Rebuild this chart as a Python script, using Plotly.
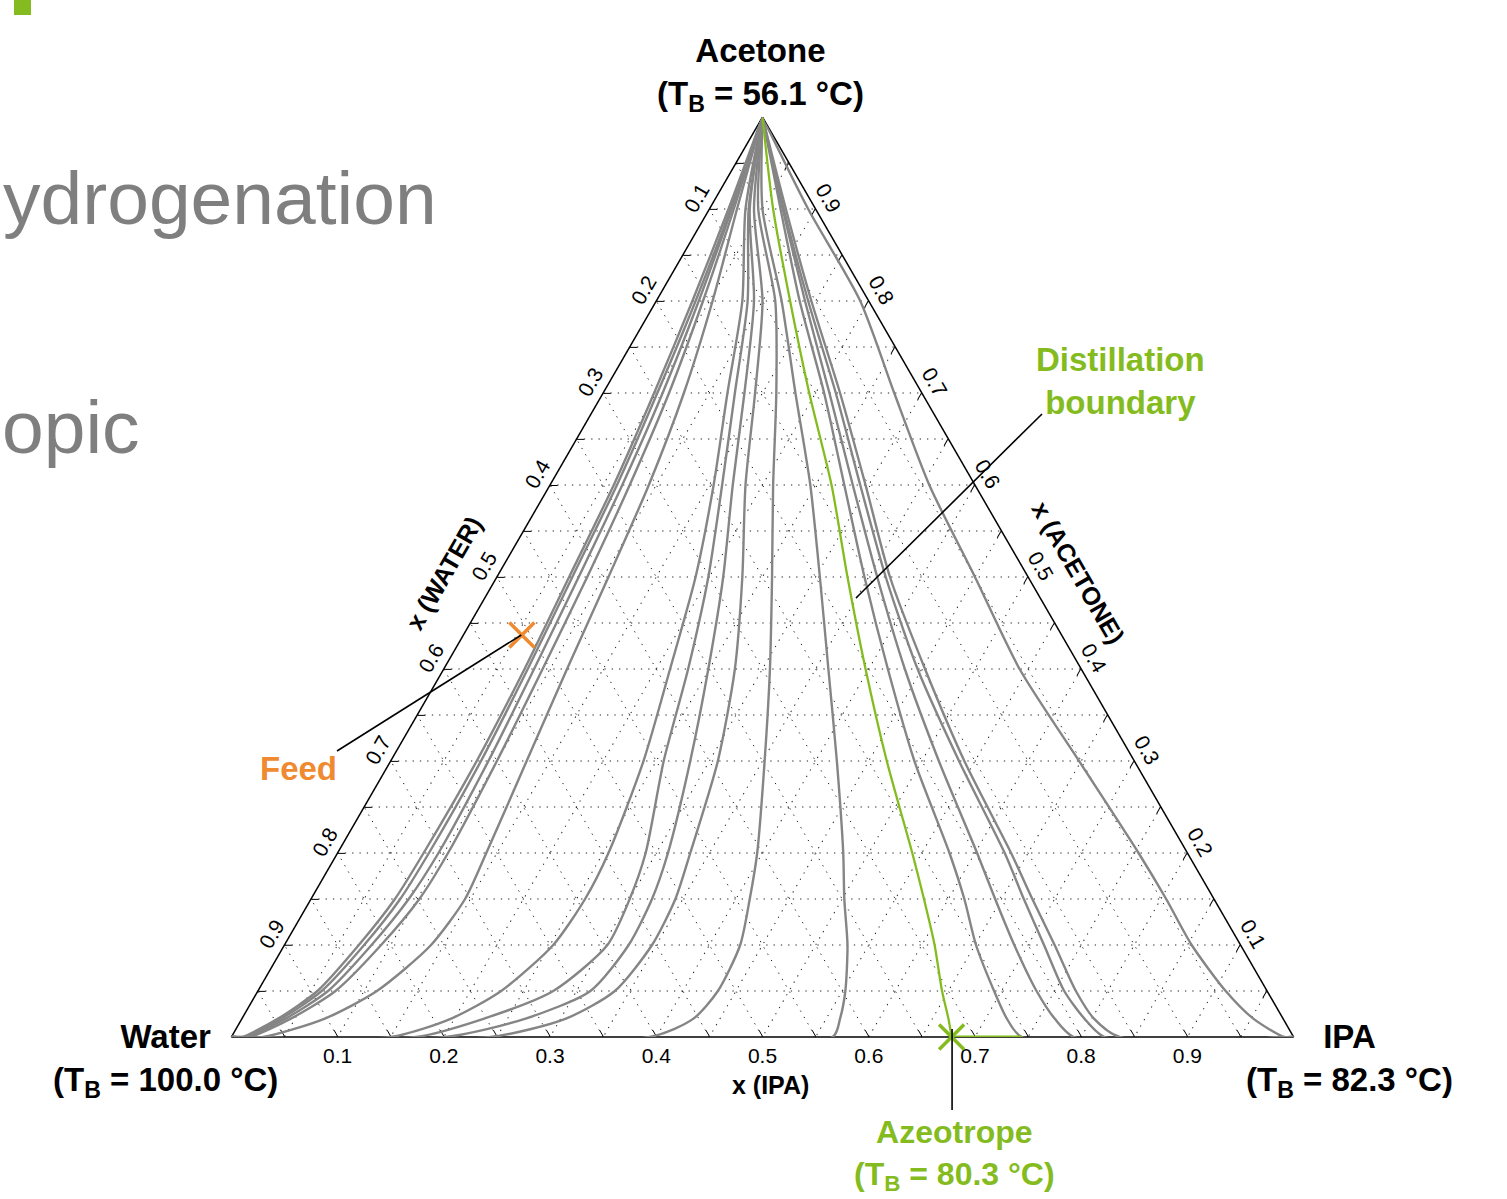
import plotly.graph_objects as go

# ---------------- data (mole fractions) ----------------
ACETONE_LEVELS = [1.0, 0.9, 0.8, 0.7, 0.6, 0.5, 0.4, 0.3, 0.2, 0.15, 0.1, 0.05, 0.02, 0.0]

# residue curves ending at the water vertex: IPA fraction at each acetone level
L1_IPA = [0, 0.018, 0.034, 0.048, 0.060, 0.068, 0.076, 0.081, 0.081, 0.079, 0.070, 0.056, 0.034, 0.010]
L2_IPA = [0, 0.020, 0.037, 0.051, 0.063, 0.071, 0.079, 0.085, 0.086, 0.084, 0.075, 0.060, 0.037, 0.012]
L3_IPA = [0, 0.021, 0.040, 0.056, 0.068, 0.077, 0.085, 0.092, 0.095, 0.092, 0.082, 0.066, 0.041, 0.014]
L4_IPA = [0, 0.023, 0.044, 0.062, 0.075, 0.085, 0.093, 0.100, 0.104, 0.102, 0.091, 0.073, 0.046, 0.017]
L5_IPA = [0, 0.026, 0.053, 0.076, 0.093, 0.105, 0.116, 0.128, 0.140, 0.145, 0.138, 0.112, 0.078, 0.030]
M1_IPA = [0, 0.034, 0.081, 0.117, 0.154, 0.187, 0.213, 0.238, 0.255, 0.258, 0.253, 0.229, 0.197, 0.150]
M2_IPA = [0, 0.037, 0.086, 0.124, 0.162, 0.199, 0.230, 0.257, 0.290, 0.300, 0.304, 0.278, 0.228, 0.174]
M3_IPA = [0, 0.038, 0.092, 0.133, 0.172, 0.213, 0.249, 0.282, 0.311, 0.321, 0.324, 0.313, 0.267, 0.202]
M4_IPA = [0, 0.042, 0.100, 0.143, 0.184, 0.231, 0.274, 0.308, 0.332, 0.343, 0.346, 0.336, 0.305, 0.244]
M5_IPA = [0, 0.046, 0.112, 0.163, 0.210, 0.259, 0.307, 0.352, 0.395, 0.413, 0.429, 0.433, 0.425, 0.394]
M6_IPA = [0, 0.050, 0.118, 0.181, 0.245, 0.304, 0.362, 0.420, 0.476, 0.502, 0.530, 0.553, 0.563, 0.566]

# residue curves ending at the IPA vertex
R1_IPA = [0, 0.067, 0.135, 0.208, 0.277, 0.346, 0.418, 0.493, 0.576, 0.615, 0.651, 0.693, 0.720, 0.744]
R2_IPA = [0, 0.069, 0.140, 0.213, 0.285, 0.358, 0.434, 0.516, 0.602, 0.644, 0.687, 0.733, 0.765, 0.793]
R3_IPA = [0, 0.070, 0.143, 0.219, 0.292, 0.366, 0.446, 0.535, 0.628, 0.671, 0.715, 0.759, 0.793, 0.822]
R4_IPA = [0, 0.072, 0.146, 0.223, 0.297, 0.370, 0.453, 0.540, 0.634, 0.679, 0.725, 0.770, 0.802, 0.836]
R5_IPA = [0, 0.093, 0.192, 0.274, 0.357, 0.450, 0.542, 0.648, 0.754, 0.805, 0.854, 0.911, 0.952, 0.991]

# distillation boundary
BOUNDARY_IPA = [0, 0.060, 0.126, 0.194, 0.265, 0.330, 0.397, 0.467, 0.541, 0.577, 0.612, 0.644, 0.665, 0.678]
BOUNDARY_BASE_IPA = [0.678, 0.744]   # along the water-IPA edge

FEED_ACETONE, FEED_IPA = 0.437, 0.055
AZEO_ACETONE, AZEO_IPA = 0.0, 0.678

TICK_VALUES = [round(0.05 * k, 2) for k in range(1, 20)]
TICK_TEXT = [f"{1 - v:.1f}" if k % 2 == 0 else "" for k, v in zip(range(1, 20), TICK_VALUES)]

# ---------------- styling ----------------
W, H = 1507, 1199
X_LEFT, X_RIGHT, Y_BOTTOM, Y_TOP = 230, 1295, 1037, 117
GREY = "#858585"
GREEN = "#84BC1F"
ORANGE = "#F08A30"
FONT = "Liberation Sans, Arial, sans-serif"


def P(x, y):
    return x / W, 1 - y / H


def tern_px(a, c):
    return (X_LEFT + (c + a / 2) * (X_RIGHT - X_LEFT), Y_BOTTOM - a * (Y_BOTTOM - Y_TOP))


def curve(acetone, ipa, end, color, width):
    a = list(acetone)
    c = list(ipa)
    if end == "water":
        a.append(0.0); c.append(0.0)
    elif end == "ipa":
        a.append(0.0); c.append(1.0)
    b = [max(0.0, 1 - ai - ci) for ai, ci in zip(a, c)]
    return go.Scatterternary(a=a, b=b, c=c, mode="lines",
                             line=dict(color=color, width=width, shape="spline", smoothing=0.7),
                             hoverinfo="skip", showlegend=False, cliponaxis=True)


fig = go.Figure()
for ipa in [L1_IPA, L2_IPA, L3_IPA, L4_IPA, L5_IPA, M1_IPA, M2_IPA, M3_IPA, M4_IPA, M5_IPA, M6_IPA]:
    fig.add_trace(curve(ACETONE_LEVELS, ipa, "water", GREY, 2.4))
for ipa in [R1_IPA, R2_IPA, R3_IPA, R4_IPA, R5_IPA]:
    fig.add_trace(curve(ACETONE_LEVELS, ipa, "ipa", GREY, 2.4))

fig.add_trace(curve(ACETONE_LEVELS, BOUNDARY_IPA, None, GREEN, 2.3))
fig.add_trace(go.Scatterternary(a=[0, 0], c=BOUNDARY_BASE_IPA, b=[1 - v for v in BOUNDARY_BASE_IPA],
                                mode="lines", line=dict(color=GREEN, width=3),
                                hoverinfo="skip", showlegend=False))

fig.add_trace(go.Scatterternary(a=[FEED_ACETONE], c=[FEED_IPA], b=[1 - FEED_ACETONE - FEED_IPA],
                                mode="markers",
                                marker=dict(symbol="x-thin", size=25, line=dict(color=ORANGE, width=3.5)),
                                hoverinfo="skip", showlegend=False, cliponaxis=False))
fig.add_trace(go.Scatterternary(a=[AZEO_ACETONE], c=[AZEO_IPA], b=[1 - AZEO_ACETONE - AZEO_IPA],
                                mode="markers",
                                marker=dict(symbol="x-thin", size=25, line=dict(color=GREEN, width=3.5)),
                                hoverinfo="skip", showlegend=False, cliponaxis=False))

axis_common = dict(
    min=0, tickmode="array", tickvals=TICK_VALUES, ticktext=TICK_TEXT,
    ticks="inside", ticklen=7, tickwidth=1, tickcolor="black",
    tickfont=dict(family=FONT, size=21, color="black"),
    showline=True, linecolor="black", linewidth=1.5,
    showgrid=True, gridcolor="#222222", gridwidth=1, griddash="1.3px,6px",
    layer="below traces", title=dict(text=""),
)

x0, y1 = P(X_LEFT, Y_TOP)
x1, y0 = P(X_RIGHT, Y_BOTTOM)
fig.update_layout(
    width=W, height=H, margin=dict(l=0, r=0, t=0, b=0),
    paper_bgcolor="white", plot_bgcolor="white", showlegend=False,
    font=dict(family=FONT, color="black"),
    ternary=dict(
        sum=1, bgcolor="rgba(0,0,0,0)",
        domain=dict(x=[x0, x1], y=[y0, y1]),
        aaxis=dict(axis_common, tickangle=-60),
        baxis=dict(axis_common, tickangle=0),
        caxis=dict(axis_common, tickangle=60),
    ),
)

annotations = []


def text(x, y, t, size, color="black", bold=True, angle=0, xanchor="center"):
    px, py = P(x, y)
    annotations.append(dict(
        x=px, y=py, xref="paper", yref="paper", showarrow=False,
        text=(f"<b>{t}</b>" if bold else t), textangle=angle, xanchor=xanchor, yanchor="middle",
        font=dict(family=FONT, size=size, color=color), align="center"))


# slide background text
text(1, 198, "ydrogenation", 75, color="#7F7F7F", bold=False, xanchor="left")
text(0, 427, "opic", 75, color="#7F7F7F", bold=False, xanchor="left")

# vertex labels
text(760, 74, "Acetone<br>(T<sub>B</sub> = 56.1 °C)", 33)
text(165, 1060, "Water<br>(T<sub>B</sub> = 100.0 °C)", 33)
text(1349, 1060, "IPA<br>(T<sub>B</sub> = 82.3 °C)", 33)

# axis titles
text(444, 573, "x (WATER)", 25, angle=-60)
text(1078, 572, "x (ACETONE)", 25, angle=60)
text(770, 1085, "x (IPA)", 25)

# callouts
text(1120, 381, "Distillation<br>boundary", 33, color=GREEN)
text(298, 768, "Feed", 33, color=ORANGE)
text(954, 1155, "Azeotrope<br>(T<sub>B</sub> = 80.3 °C)", 32, color=GREEN)

fig.update_layout(annotations=annotations)

shapes = []


def seg(xa, ya, xb, yb, color="black", width=1.6):
    pa, pb = P(xa, ya), P(xb, yb)
    shapes.append(dict(type="line", xref="paper", yref="paper", x0=pa[0], y0=pa[1], x1=pb[0], y1=pb[1],
                       line=dict(color=color, width=width)))


fx, fy = tern_px(FEED_ACETONE, FEED_IPA)
seg(337, 751, fx, fy)
seg(1042, 414, 856, 598)
zx, zy = tern_px(AZEO_ACETONE, AZEO_IPA)
seg(zx, zy - 8, zx, 1110)

gx0, gy0 = P(14, 0)
gx1, gy1 = P(31, 15)
shapes.append(dict(type="rect", xref="paper", yref="paper", x0=gx0, y0=gy1, x1=gx1, y1=gy0,
                   fillcolor=GREEN, line=dict(width=0)))
fig.update_layout(shapes=shapes)

fig.write_html("out.html", config={"displayModeBar": False},
               post_script="document.body.style.margin='0';document.body.style.overflow='hidden';")
